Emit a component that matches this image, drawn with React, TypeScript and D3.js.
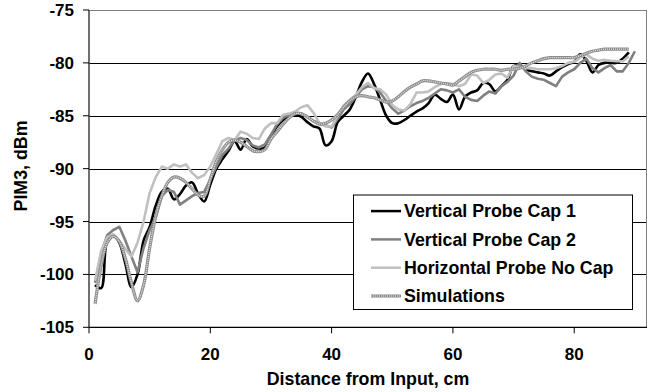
import React from "react";
import * as d3 from "d3";

const distance: number[] = Array.from({ length: 90 }, (_, i) => i + 1);

const cap1: number[] = [
  -101.0, -101.3, -96.8, -96.3, -97.0, -99.0, -101.2, -100.0, -96.8, -95.5,
  -93.5, -92.2, -91.9, -92.9, -92.4, -91.6, -91.3, -92.4, -93.1, -91.5,
  -90.0, -89.1, -88.3, -87.4, -88.2, -87.2, -87.9, -88.1, -88.0, -87.0,
  -86.0, -85.4, -85.0, -84.9, -85.1, -85.6, -86.0, -86.2, -87.8, -87.4,
  -85.6, -85.0, -84.4, -83.2, -81.8, -81.0, -82.0, -83.5, -85.0, -85.7,
  -85.7, -85.4, -85.0, -84.6, -84.3, -83.8, -83.0, -83.4, -83.7, -83.0,
  -84.4, -83.2, -82.8, -82.6, -81.9, -82.0, -82.7, -82.2, -81.6, -80.3,
  -80.3, -80.6, -80.8, -80.9, -81.0, -81.2, -80.8, -80.4, -80.1, -79.9,
  -79.2, -79.8, -80.9, -80.2, -80.0, -80.0, -80.0, -79.6, -79.0,
];

const cap2: number[] = [
  -100.8, -98.0, -96.3, -95.8, -95.5, -96.8, -98.3, -99.8, -97.5, -95.8,
  -94.6, -92.6, -92.0, -92.2, -93.4, -93.0, -92.6, -92.3, -92.2, -91.0,
  -89.8, -88.7, -88.1, -87.3, -87.1, -87.3, -87.8, -88.0, -87.7, -86.8,
  -85.8, -85.2, -84.9, -84.7, -84.8, -85.1, -85.5, -85.7, -85.9, -86.1,
  -85.3, -84.4, -83.9, -83.2, -82.5, -82.2, -82.3, -82.8, -83.6, -84.3,
  -84.8, -84.5, -84.1, -83.8, -83.6, -83.3, -82.9, -82.5, -82.6, -82.8,
  -82.5, -83.2, -83.5, -83.6, -83.1, -82.7, -82.9, -82.2, -81.8, -81.2,
  -80.0, -80.8, -81.3, -81.5, -81.6, -81.9, -82.2, -81.3, -80.9, -80.6,
  -80.0, -79.6, -80.5, -80.9, -80.5, -80.2, -80.8, -80.8, -80.0, -78.9,
];

const horizontal: number[] = [
  -100.6, -97.8, -96.5, -96.2, -96.8, -97.6, -98.3, -97.0, -95.0, -92.3,
  -90.8, -89.8, -90.0, -89.6, -89.8, -89.6, -90.4, -90.9, -90.6, -89.8,
  -88.6, -87.4, -87.1, -87.3, -86.5, -86.7, -87.1, -87.2, -86.2, -85.7,
  -85.7, -84.9, -84.8, -84.6, -84.2, -84.0, -84.7, -85.7, -86.0, -86.0,
  -85.0, -84.0, -83.5, -83.0, -82.3, -81.9, -82.4, -82.5, -83.0, -84.0,
  -84.4, -84.5, -83.9, -82.8, -82.8, -82.7, -82.3, -82.0, -81.9, -82.0,
  -82.2, -82.0, -81.1, -81.2, -81.9, -81.6, -81.1, -81.0, -81.4, -80.3,
  -80.4, -80.5, -80.5, -80.6, -80.6, -80.6, -80.5, -80.3, -80.0, -79.9,
  -79.5, -79.2, -79.6, -79.8, -79.7, -79.8, -79.85, -79.85, -79.4,
];

const simulations: number[] = [
  -102.8, -99.2, -97.0, -96.4, -96.9, -98.5, -100.8, -102.5, -101.0, -97.5,
  -94.5, -92.6, -91.3, -90.8, -90.9, -91.3, -91.9, -92.5, -92.6, -91.0,
  -89.3, -88.2, -87.5, -87.3, -87.5, -87.9, -88.3, -88.4, -88.2, -87.2,
  -86.5, -85.8, -85.2, -84.8, -84.8, -85.1, -85.5, -85.8, -85.7, -85.4,
  -84.9, -84.2, -83.6, -83.2, -83.1, -83.2, -83.3, -83.5, -83.7, -83.6,
  -83.2, -82.7, -82.3, -82.0, -81.7, -81.7, -81.8, -81.9, -82.0, -82.1,
  -81.7, -81.3, -80.9, -80.7, -80.6, -80.6, -80.6, -80.7, -80.6, -80.6,
  -80.5, -80.3, -80.0, -79.8, -79.6, -79.5, -79.5, -79.5, -79.5, -79.5,
  -79.3, -79.1, -78.9, -78.8, -78.7, -78.7, -78.7, -78.7, -78.7,
];

const seriesNames: string[] = [
  "Vertical Probe Cap 1",
  "Vertical Probe Cap 2",
  "Horizontal Probe No Cap",
  "Simulations",
];

const xTicks: number[] = [0, 20, 40, 60, 80];
const yTicks: number[] = [-105, -100, -95, -90, -85, -80, -75];

const W = 652;
const H = 392;
const left = 89;
const right = 647;
const top = 10;
const bottom = 327.3;
const FONT = "'Liberation Sans', Arial, Helvetica, sans-serif";

export default function App() {
  const x = d3.scaleLinear().domain([0, 92]).range([left, right]);
  const y = d3.scaleLinear().domain([-105, -75]).range([bottom, top]);

  const mk = (vals: number[], curve: d3.CurveFactory) =>
    d3
      .line<number>()
      .x((_, i) => x(distance[i]))
      .y((v) => y(v))
      .curve(curve)(vals) || "";

  const pCap1 = mk(cap1, d3.curveCatmullRom.alpha(0.5));
  const pCap2 = mk(cap2, d3.curveLinear);
  const pHor = mk(horizontal, d3.curveLinear);
  const pSim = mk(simulations, d3.curveCatmullRom.alpha(0.5));

  const legendX = 353.5;
  const legendY = 195;
  const legendW = 279;
  const legendH = 114.5;
  const baselines = [217.4, 245.7, 274, 302.3];

  const sampleLine = (i: number) => {
    const yy = baselines[i] - 6.3;
    const x1 = 371;
    const x2 = 401;
    if (i === 3) {
      return (
        <g key={i}>
          <line x1={x1} x2={x2} y1={yy} y2={yy} stroke="#8c8c8c" strokeWidth={3} />
          <line x1={x1} x2={x2} y1={yy} y2={yy} stroke="#e6e6e6" strokeWidth={1.2} strokeDasharray="1 1" />
        </g>
      );
    }
    const col = ["#000000", "#808080", "#c0c0c0"][i];
    return <line key={i} x1={x1} x2={x2} y1={yy} y2={yy} stroke={col} strokeWidth={2.5} />;
  };

  return (
    <svg
      width={W}
      height={H}
      viewBox={`0 0 ${W} ${H}`}
      style={{ position: "absolute", left: 0, top: 0, background: "#fff" }}
      fontFamily={FONT}
    >
      <rect x={0} y={0} width={W} height={H} fill="#fff" />
      {/* gridlines */}
      {yTicks
        .filter((t) => t > -105 && t < -75)
        .map((t) => (
          <line key={t} x1={left} x2={right} y1={Math.round(y(t)) + 0.5} y2={Math.round(y(t)) + 0.5} stroke="#000" strokeWidth={1} />
        ))}
      {/* plot border top/right */}
      <line x1={left} x2={right} y1={top + 0.5} y2={top + 0.5} stroke="#808080" strokeWidth={1} />
      <line x1={right - 0.5} x2={right - 0.5} y1={top} y2={bottom} stroke="#808080" strokeWidth={1} />

      {/* series */}
      <path d={pCap1} fill="none" stroke="#000" strokeWidth={2.6} strokeLinejoin="round" />
      <path d={pCap2} fill="none" stroke="#808080" strokeWidth={2.6} strokeLinejoin="round" />
      <path d={pHor} fill="none" stroke="#c0c0c0" strokeWidth={2.6} strokeLinejoin="round" />
      <path d={pSim} fill="none" stroke="#8c8c8c" strokeWidth={3.2} strokeLinejoin="round" />
      <path d={pSim} fill="none" stroke="#e6e6e6" strokeWidth={1.3} strokeDasharray="1 1" />

      {/* axes */}
      <line x1={left} x2={left} y1={top} y2={bottom} stroke="#404040" strokeWidth={1.5} />
      <line x1={left} x2={right} y1={bottom} y2={bottom} stroke="#000" strokeWidth={1.2} />
      {yTicks.map((t) => (
        <g key={t}>
          <line x1={left - 6} x2={left} y1={y(t)} y2={y(t)} stroke="#000" strokeWidth={1} />
          <text x={74} y={y(t) + 6} textAnchor="end" fontSize={17} fontWeight="bold" fill="#000">
            {t}
          </text>
        </g>
      ))}
      {xTicks.map((t) => (
        <g key={t}>
          <line x1={x(t)} x2={x(t)} y1={bottom} y2={bottom + 6} stroke="#000" strokeWidth={1} />
          <text x={x(t)} y={360} textAnchor="middle" fontSize={17} fontWeight="bold" fill="#000">
            {t}
          </text>
        </g>
      ))}
      <text x={(left + right) / 2} y={385} textAnchor="middle" fontSize={17.8} fontWeight="bold" fill="#000">
        Distance from Input, cm
      </text>
      <text
        transform={`translate(27,166) rotate(-90)`}
        textAnchor="middle"
        fontSize={17.8}
        fontWeight="bold"
        fill="#000"
      >
        PIM3, dBm
      </text>

      {/* legend */}
      <rect x={legendX} y={legendY} width={legendW} height={legendH} fill="#fff" stroke="#000" strokeWidth={1} />
      {seriesNames.map((n, i) => (
        <g key={n}>
          {sampleLine(i)}
          <text x={404} y={baselines[i]} fontSize={17.8} fontWeight="bold" fill="#000">
            {n}
          </text>
        </g>
      ))}
    </svg>
  );
}
